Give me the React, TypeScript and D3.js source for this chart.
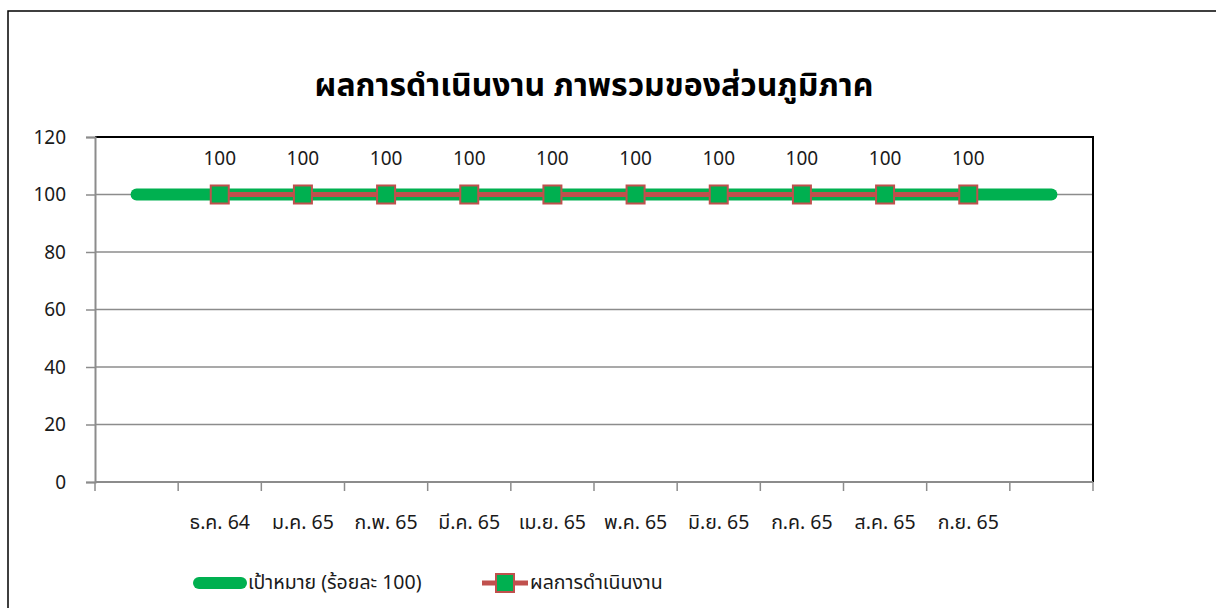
import { useEffect, useRef } from 'react';
import * as d3 from 'd3';

// categories: blank slots at both ends as in the original sheet
const categories = ['', 'ธ.ค. 64', 'ม.ค. 65', 'ก.พ. 65', 'มี.ค. 65', 'เม.ย. 65', 'พ.ค. 65', 'มิ.ย. 65', 'ก.ค. 65', 'ส.ค. 65', 'ก.ย. 65', ' '];
const targetValues = [100, 100, 100, 100, 100, 100, 100, 100, 100, 100, 100, 100];
const actualMonths = ['ธ.ค. 64', 'ม.ค. 65', 'ก.พ. 65', 'มี.ค. 65', 'เม.ย. 65', 'พ.ค. 65', 'มิ.ย. 65', 'ก.ค. 65', 'ส.ค. 65', 'ก.ย. 65'];
const actualValues = [100, 100, 100, 100, 100, 100, 100, 100, 100, 100];
const yTicks = [0, 20, 40, 60, 80, 100, 120];

const title = 'ผลการดำเนินงาน ภาพรวมของส่วนภูมิภาค';
const targetName = 'เป้าหมาย (ร้อยละ 100)';
const actualName = 'ผลการดำเนินงาน';

const GREEN = '#00b050';
const RED = '#c0504d';
const FONT = '"Noto Sans Thai", "Noto Sans", Tahoma, sans-serif';

export default function App() {
  const ref = useRef<SVGSVGElement | null>(null);

  useEffect(() => {
    if (!ref.current) return;
    const width = 1216;
    const height = 608;
    const margin = { top: 137, right: 123, bottom: 126, left: 95 };

    const svg = d3.select(ref.current);
    svg.selectAll('*').remove();

    // outer chart frame
    svg.append('rect')
      .attr('x', 8).attr('y', 11)
      .attr('width', width + 10).attr('height', height + 10)
      .attr('fill', 'white').attr('stroke', 'black').attr('stroke-width', 1.5);

    svg.append('text')
      .attr('x', 594).attr('y', 86)
      .attr('text-anchor', 'middle').attr('dominant-baseline', 'central')
      .style('font-family', FONT).style('font-size', '32px').style('font-weight', 'bold')
      .attr('fill', 'black')
      .text(title);

    const x = d3.scaleBand<string>()
      .domain(categories)
      .range([margin.left, width - margin.right])
      .padding(0);

    const y = d3.scaleLinear()
      .domain([0, 120])
      .range([height - margin.bottom, margin.top]);

    const cx = (c: string) => (x(c) ?? 0) + x.bandwidth() / 2;

    // gridlines
    svg.append('g').selectAll('line').data(yTicks.filter(d => d > 0 && d < 120)).enter()
      .append('line')
      .attr('x1', margin.left).attr('x2', width - margin.right)
      .attr('y1', d => y(d)).attr('y2', d => y(d))
      .attr('stroke', '#8c8c8c').attr('stroke-width', 1.5);

    // plot frame top/right
    svg.append('path')
      .attr('d', `M${margin.left},${y(120)}H${width - margin.right}V${y(0)}`)
      .attr('fill', 'none').attr('stroke', 'black').attr('stroke-width', 2);

    // y axis
    const yAxis = d3.axisLeft(y).tickValues(yTicks).tickSize(9).tickPadding(20);
    const gy = svg.append('g').attr('transform', `translate(${margin.left},0)`).call(yAxis);
    gy.select('.domain').attr('stroke', '#8c8c8c').attr('stroke-width', 2);
    gy.selectAll('.tick line').attr('stroke', '#8c8c8c').attr('stroke-width', 1.5);
    gy.selectAll('.tick text')
      .style('font-family', FONT).style('font-size', '19px').attr('fill', '#1a1a1a');

    // x axis: ticks on category boundaries
    const gx = svg.append('g').attr('transform', `translate(0,${y(0)})`);
    gx.append('line')
      .attr('x1', margin.left).attr('x2', width - margin.right)
      .attr('stroke', '#8c8c8c').attr('stroke-width', 2);
    const bounds = categories.map(c => x(c) ?? 0).concat([width - margin.right]);
    gx.selectAll('line.tk').data(bounds).enter()
      .append('line').attr('class', 'tk')
      .attr('x1', d => d).attr('x2', d => d)
      .attr('y1', 0).attr('y2', 9)
      .attr('stroke', '#8c8c8c').attr('stroke-width', 1.5);
    gx.selectAll('text').data(categories).enter()
      .append('text')
      .attr('x', d => cx(d)).attr('y', 41)
      .attr('text-anchor', 'middle').attr('dominant-baseline', 'central')
      .style('font-family', FONT).style('font-size', '19.5px').attr('fill', '#1a1a1a')
      .text(d => d.trim());

    // target line
    const line = d3.line<[string, number]>().x(d => cx(d[0])).y(d => y(d[1]));
    svg.append('path')
      .datum(categories.map((c, i) => [c, targetValues[i]] as [string, number]))
      .attr('d', line)
      .attr('fill', 'none').attr('stroke', GREEN).attr('stroke-width', 12)
      .attr('stroke-linecap', 'round');

    // actual line
    const actual = actualMonths.map((c, i) => [c, actualValues[i]] as [string, number]);
    svg.append('path')
      .datum(actual)
      .attr('d', line)
      .attr('fill', 'none').attr('stroke', RED).attr('stroke-width', 5);

    svg.append('g').selectAll('rect').data(actual).enter()
      .append('rect')
      .attr('x', d => cx(d[0]) - 9).attr('y', d => y(d[1]) - 9)
      .attr('width', 18).attr('height', 18)
      .attr('fill', GREEN).attr('stroke', RED).attr('stroke-width', 2);

    svg.append('g').selectAll('text').data(actual).enter()
      .append('text')
      .attr('x', d => cx(d[0])).attr('y', d => y(d[1]) - 35)
      .attr('text-anchor', 'middle').attr('dominant-baseline', 'central')
      .style('font-family', FONT).style('font-size', '19px').attr('fill', '#1a1a1a')
      .text(d => String(d[1]));

    // legend
    const ly = 583;
    const lg = svg.append('g');
    lg.append('line')
      .attr('x1', 199).attr('x2', 241).attr('y1', ly).attr('y2', ly)
      .attr('stroke', GREEN).attr('stroke-width', 12).attr('stroke-linecap', 'round');
    lg.append('text')
      .attr('x', 248).attr('y', ly)
      .attr('dominant-baseline', 'central')
      .style('font-family', FONT).style('font-size', '19.5px').attr('fill', '#1a1a1a')
      .text(targetName);
    lg.append('line')
      .attr('x1', 482).attr('x2', 528).attr('y1', ly).attr('y2', ly)
      .attr('stroke', RED).attr('stroke-width', 5);
    lg.append('rect')
      .attr('x', 496).attr('y', ly - 9).attr('width', 18).attr('height', 18)
      .attr('fill', GREEN).attr('stroke', RED).attr('stroke-width', 2);
    lg.append('text')
      .attr('x', 530).attr('y', ly)
      .attr('dominant-baseline', 'central')
      .style('font-family', FONT).style('font-size', '19.5px').attr('fill', '#1a1a1a')
      .text(actualName);
  }, []);

  return (
    <svg
      ref={ref}
      width={1216}
      height={608}
      style={{ position: 'absolute', left: 0, top: 0, display: 'block' }}
    />
  );
}
